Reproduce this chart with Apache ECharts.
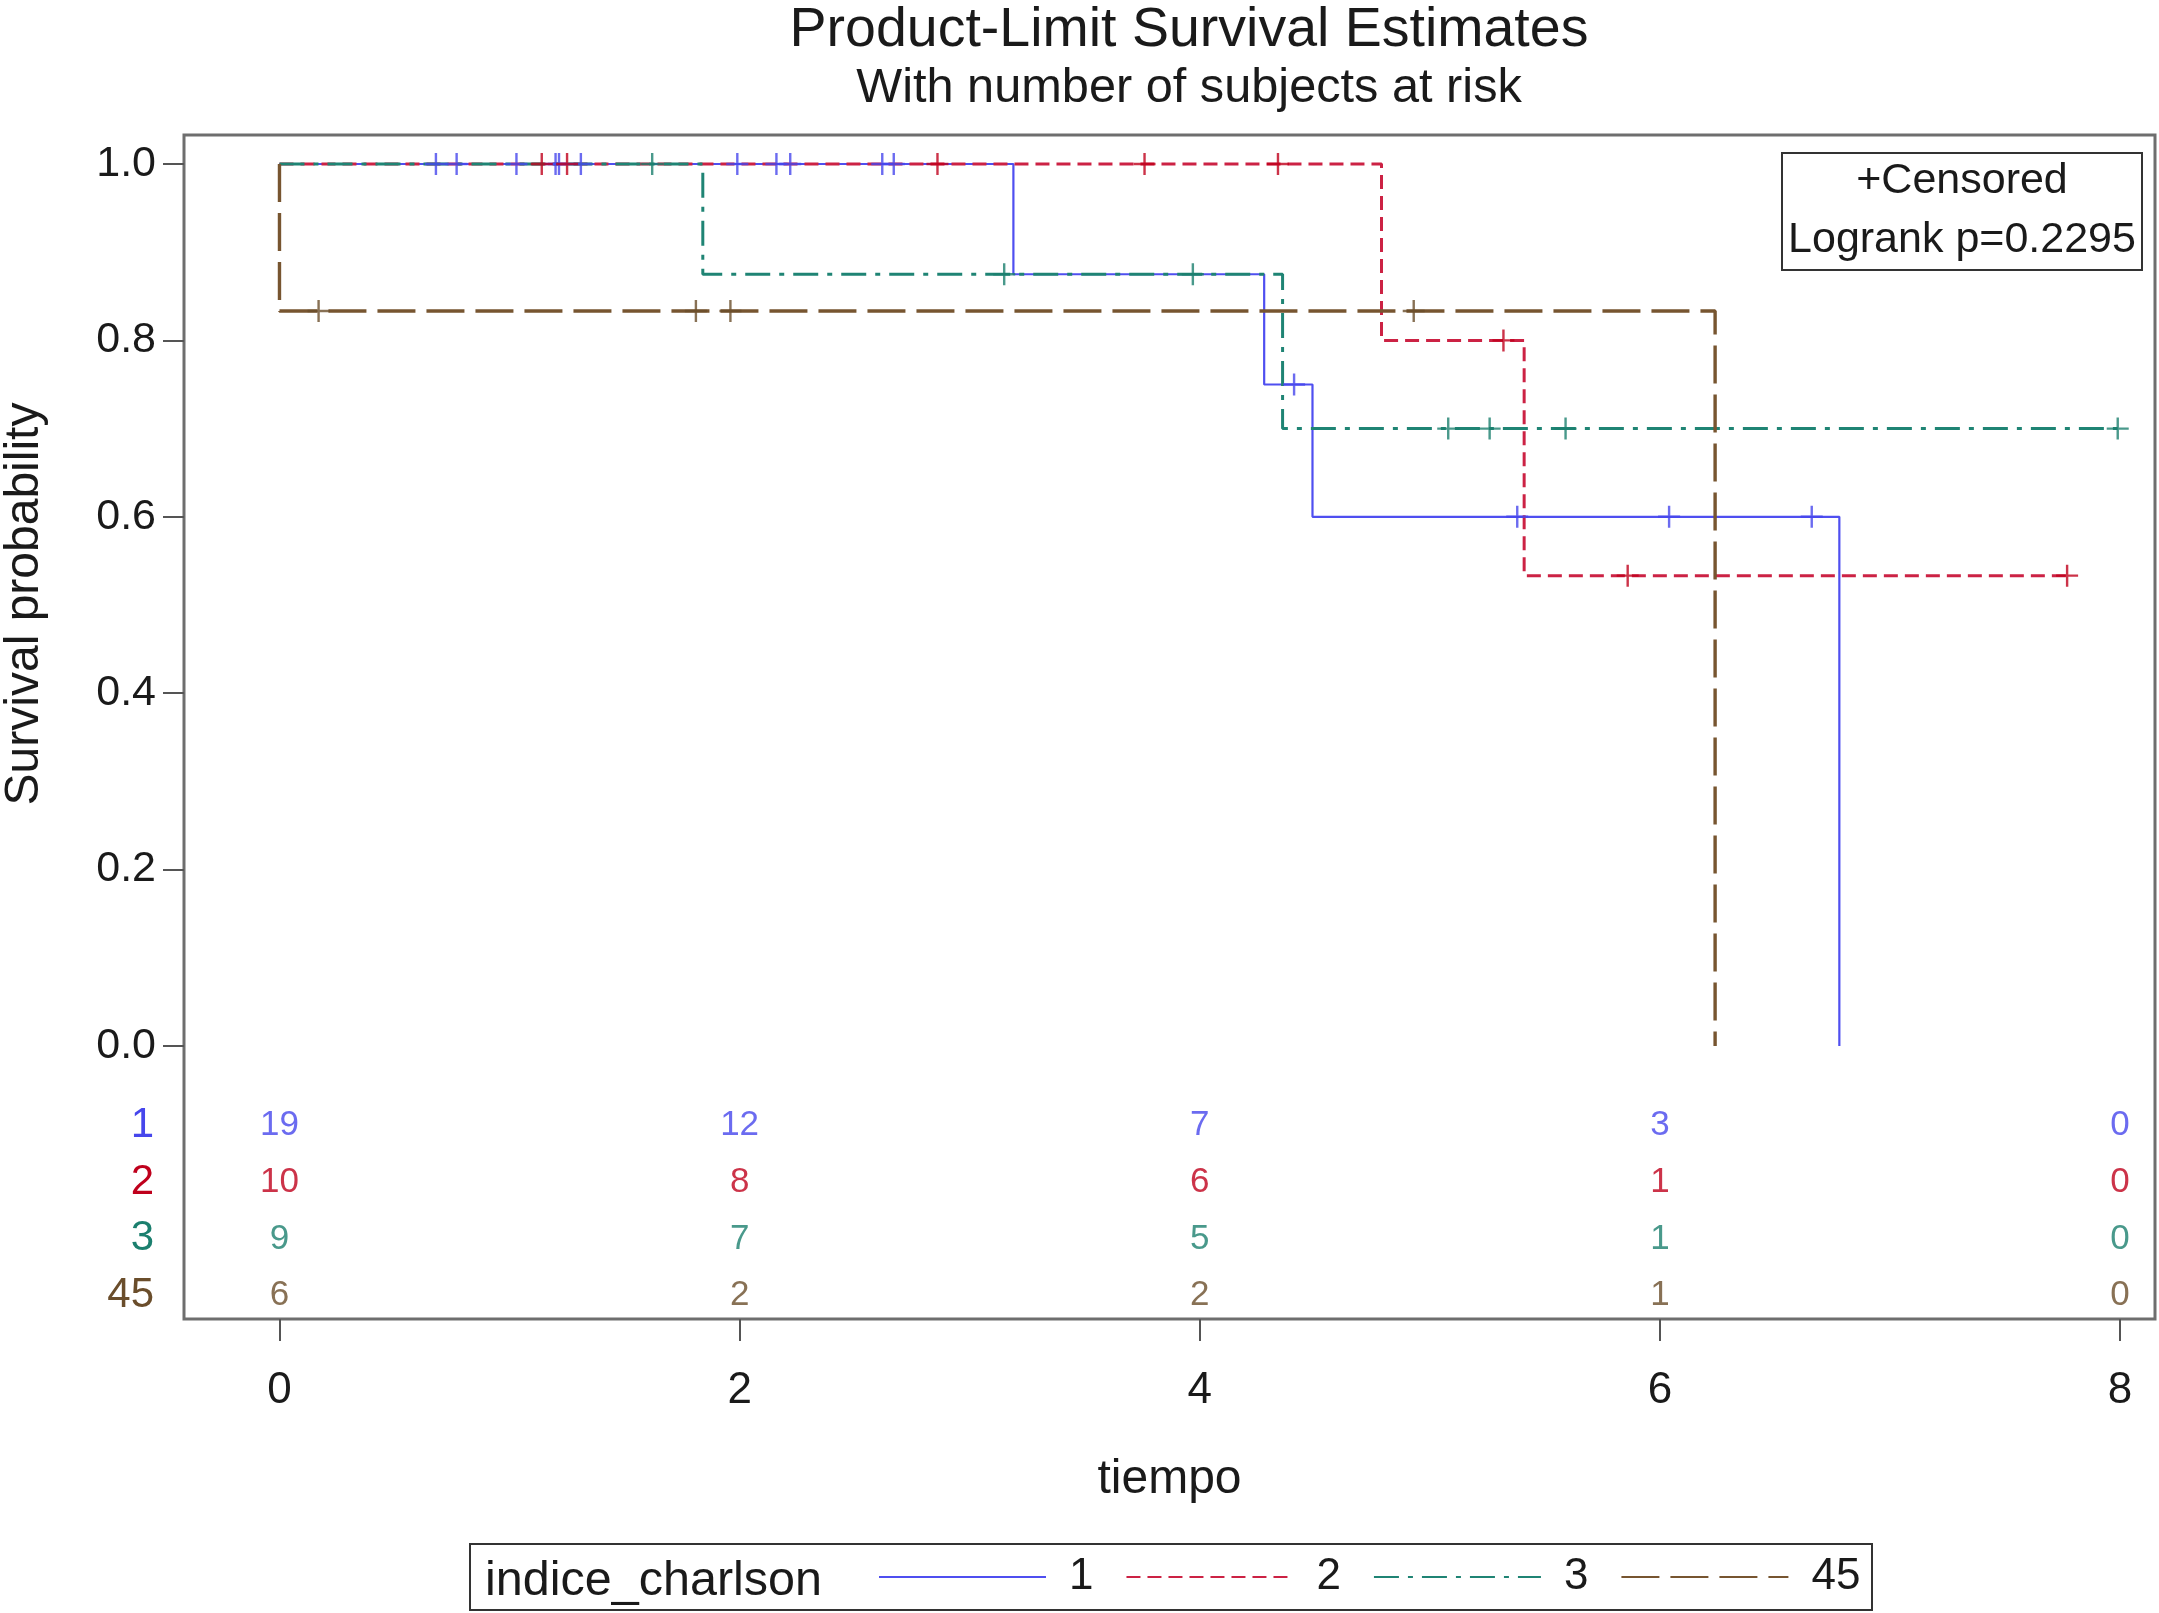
<!DOCTYPE html>
<html><head><meta charset="utf-8">
<script src="https://cdn.jsdelivr.net/npm/echarts@6/dist/echarts.min.js"></script>
<style>html,body{margin:0;padding:0;background:#fff}#c{width:2159px;height:1613px}</style>
</head><body><div id="c"></div>
<script>
// ---- data ----
const groups = ['1', '2', '3', '45'];
const eventTimes1 = [0, 3.19, 4.28, 4.49, 6.78];
const survival1   = [1, 0.875, 0.75, 0.6, 0];
const censorTimes1 = [0.68, 0.77, 1.03, 1.20, 1.215, 1.31, 1.99, 2.16, 2.22, 2.62, 2.67, 4.41, 5.38, 6.04, 6.66];

const eventTimes2 = [0, 4.79, 5.41, 7.77];
const survival2   = [1, 0.8, 0.5333, 0.5333];
const censorTimes2 = [1.14, 1.25, 2.86, 3.76, 4.34, 5.32, 5.86, 7.77];

const eventTimes3 = [0, 1.84, 4.36, 7.99];
const survival3   = [1, 0.875, 0.7, 0.7];
const censorTimes3 = [1.62, 3.15, 3.97, 5.08, 5.26, 5.59, 7.99];

const eventTimes45 = [0, 0, 6.24];
const survival45   = [1, 0.8333, 0];
const censorTimes45 = [0.17, 1.81, 1.96, 4.93];

const atRiskTimes = [0, 2, 4, 6, 8];
const atRisk1  = [19, 12, 7, 3, 0];
const atRisk2  = [10, 8, 6, 1, 0];
const atRisk3  = [9, 7, 5, 1, 0];
const atRisk45 = [6, 2, 2, 1, 0];

const xTicks = [0, 2, 4, 6, 8];
const yTicks = [0, 0.2, 0.4, 0.6, 0.8, 1.0];

const pValueText = 'Logrank p=0.2295';

// ---- styles ----
const lineColors = ['#4f4ff0', '#cc2244', '#1f8474', '#775530'];
const textColors = ['#4646ec', '#bf001c', '#1b7f6e', '#6a4d2b'];
const dashTypes  = ['solid', [14, 7], [25, 9, 5, 9], [38, 11]];
const lineWidths = [2.2, 3, 3, 3.4];
const FONT = 'Liberation Sans, Arial, Helvetica, sans-serif';
const TXT = '#1a1a1a';

const curves = [
  {t: eventTimes1, s: survival1, c: censorTimes1, r: atRisk1},
  {t: eventTimes2, s: survival2, c: censorTimes2, r: atRisk2},
  {t: eventTimes3, s: survival3, c: censorTimes3, r: atRisk3},
  {t: eventTimes45, s: survival45, c: censorTimes45, r: atRisk45}
];

function survAt(times, surv, x) {
  let v = surv[0];
  for (let i = 0; i < times.length; i++) { if (times[i] <= x) v = surv[i]; }
  return v;
}

const series = [];
curves.forEach((cv, g) => {
  series.push({
    name: groups[g], type: 'line', xAxisIndex: 0, yAxisIndex: 0,
    step: 'end', symbol: 'none', silent: true, z: 3 + g,
    data: cv.t.map((t, i) => [t, cv.s[i]]),
    lineStyle: {color: lineColors[g], width: lineWidths[g], type: dashTypes[g]},
    itemStyle: {color: lineColors[g]}
  });
});
curves.forEach((cv, g) => {
  series.push({
    name: 'censor' + groups[g], type: 'scatter', xAxisIndex: 0, yAxisIndex: 0, z: 10,
    symbol: 'path://M5,0L5,10M0,5L10,5', symbolSize: 22, silent: true,
    data: cv.c.map(t => [t, survAt(cv.t, cv.s, t)]),
    itemStyle: {color: 'none', borderColor: textColors[g], borderWidth: 2.4}
  });
});
curves.forEach((cv, g) => {
  series.push({
    name: 'risk' + groups[g], type: 'scatter', xAxisIndex: 1, yAxisIndex: 1, z: 10,
    symbolSize: 1, silent: true,
    data: atRiskTimes.map((t, i) => [t, groups[g], cv.r[i]]),
    itemStyle: {color: 'rgba(0,0,0,0)'},
    label: {show: true, position: 'inside', formatter: p => String(p.value[2]),
            fontSize: 35, color: textColors[g], fontFamily: FONT}
  });
});

const GL = 184, GT = 135, GW = 1971, GH = 1184;
const option = {
  animation: false,
  backgroundColor: '#fff',
  textStyle: {fontFamily: FONT},
  title: [{
    text: 'Product-Limit Survival Estimates',
    subtext: 'With number of subjects at risk',
    left: 1184, top: -2, textAlign: 'center', itemGap: 5,
    textStyle: {fontSize: 55.5, fontWeight: 'normal', color: TXT, fontFamily: FONT},
    subtextStyle: {fontSize: 48.7, color: TXT, fontFamily: FONT}
  }],
  legend: {
    data: groups, left: 873, top: 1550, itemWidth: 167, itemHeight: 20, itemGap: 32,
    textStyle: {fontSize: 44, color: TXT, fontFamily: FONT, padding: [0, 0, 0, 18]},
    itemStyle: {color: 'rgba(0,0,0,0)', borderWidth: 0, opacity: 0},
    selectedMode: false
  },
  grid: [
    {left: GL, top: GT, width: GW, height: GH, show: true, borderColor: '#6e6e6e', borderWidth: 3, backgroundColor: 'transparent'},
    {left: GL, top: 1097, width: GW, height: 227, show: false}
  ],
  xAxis: [{
    type: 'value', gridIndex: 0, min: -0.415, max: 8.152,
    axisLine: {show: false, onZero: false},
    axisTick: {show: true, customValues: xTicks, length: 22, lineStyle: {color: '#555', width: 2}},
    axisLabel: {customValues: xTicks, fontSize: 44, color: TXT, margin: 50},
    splitLine: {show: false},
    name: 'tiempo', nameLocation: 'middle', nameGap: 137,
    nameTextStyle: {fontSize: 48, color: TXT}
  }, {
    type: 'value', gridIndex: 1, min: -0.415, max: 8.152, show: false
  }],
  yAxis: [{
    type: 'value', gridIndex: 0, min: -0.3095, max: 1.0329,
    axisLine: {show: false, onZero: false},
    axisTick: {show: true, customValues: yTicks, length: 21, lineStyle: {color: '#555', width: 2}},
    axisLabel: {customValues: yTicks, fontSize: 43, color: TXT, margin: 28, formatter: v => v.toFixed(1)},
    splitLine: {show: false}
  }, {
    type: 'category', gridIndex: 1, data: groups, inverse: true,
    axisLine: {show: false, onZero: false}, axisTick: {show: false}, splitLine: {show: false},
    axisLabel: {fontSize: 42, margin: 30, color: (v, i) => textColors[groups.indexOf(v)]}
  }],
  graphic: [
    {type: 'text', x: 25, y: 604, rotation: Math.PI / 2,
     style: {text: 'Survival probability', font: '48px ' + FONT, fill: TXT, textAlign: 'center', textVerticalAlign: 'middle'}},
    {type: 'rect', shape: {x: 1782, y: 153, width: 360, height: 117},
     style: {fill: 'none', stroke: '#333', lineWidth: 2}},
    {type: 'text', x: 1962, y: 181,
     style: {text: '+Censored', font: '43px ' + FONT, fill: TXT, textAlign: 'center', textVerticalAlign: 'middle'}},
    {type: 'text', x: 1962, y: 240,
     style: {text: pValueText, font: '43px ' + FONT, fill: TXT, textAlign: 'center', textVerticalAlign: 'middle'}},
    {type: 'rect', shape: {x: 470, y: 1544, width: 1402, height: 66},
     style: {fill: 'none', stroke: '#333', lineWidth: 2}},
    {type: 'text', x: 485, y: 1582,
     style: {text: 'indice_charlson', font: '48.5px ' + FONT, fill: TXT, textAlign: 'left', textVerticalAlign: 'middle'}}
  ],
  series: series
};
const chart = echarts.init(document.getElementById('c'), null, {renderer: 'canvas'});
chart.setOption(option);
</script></body></html>
